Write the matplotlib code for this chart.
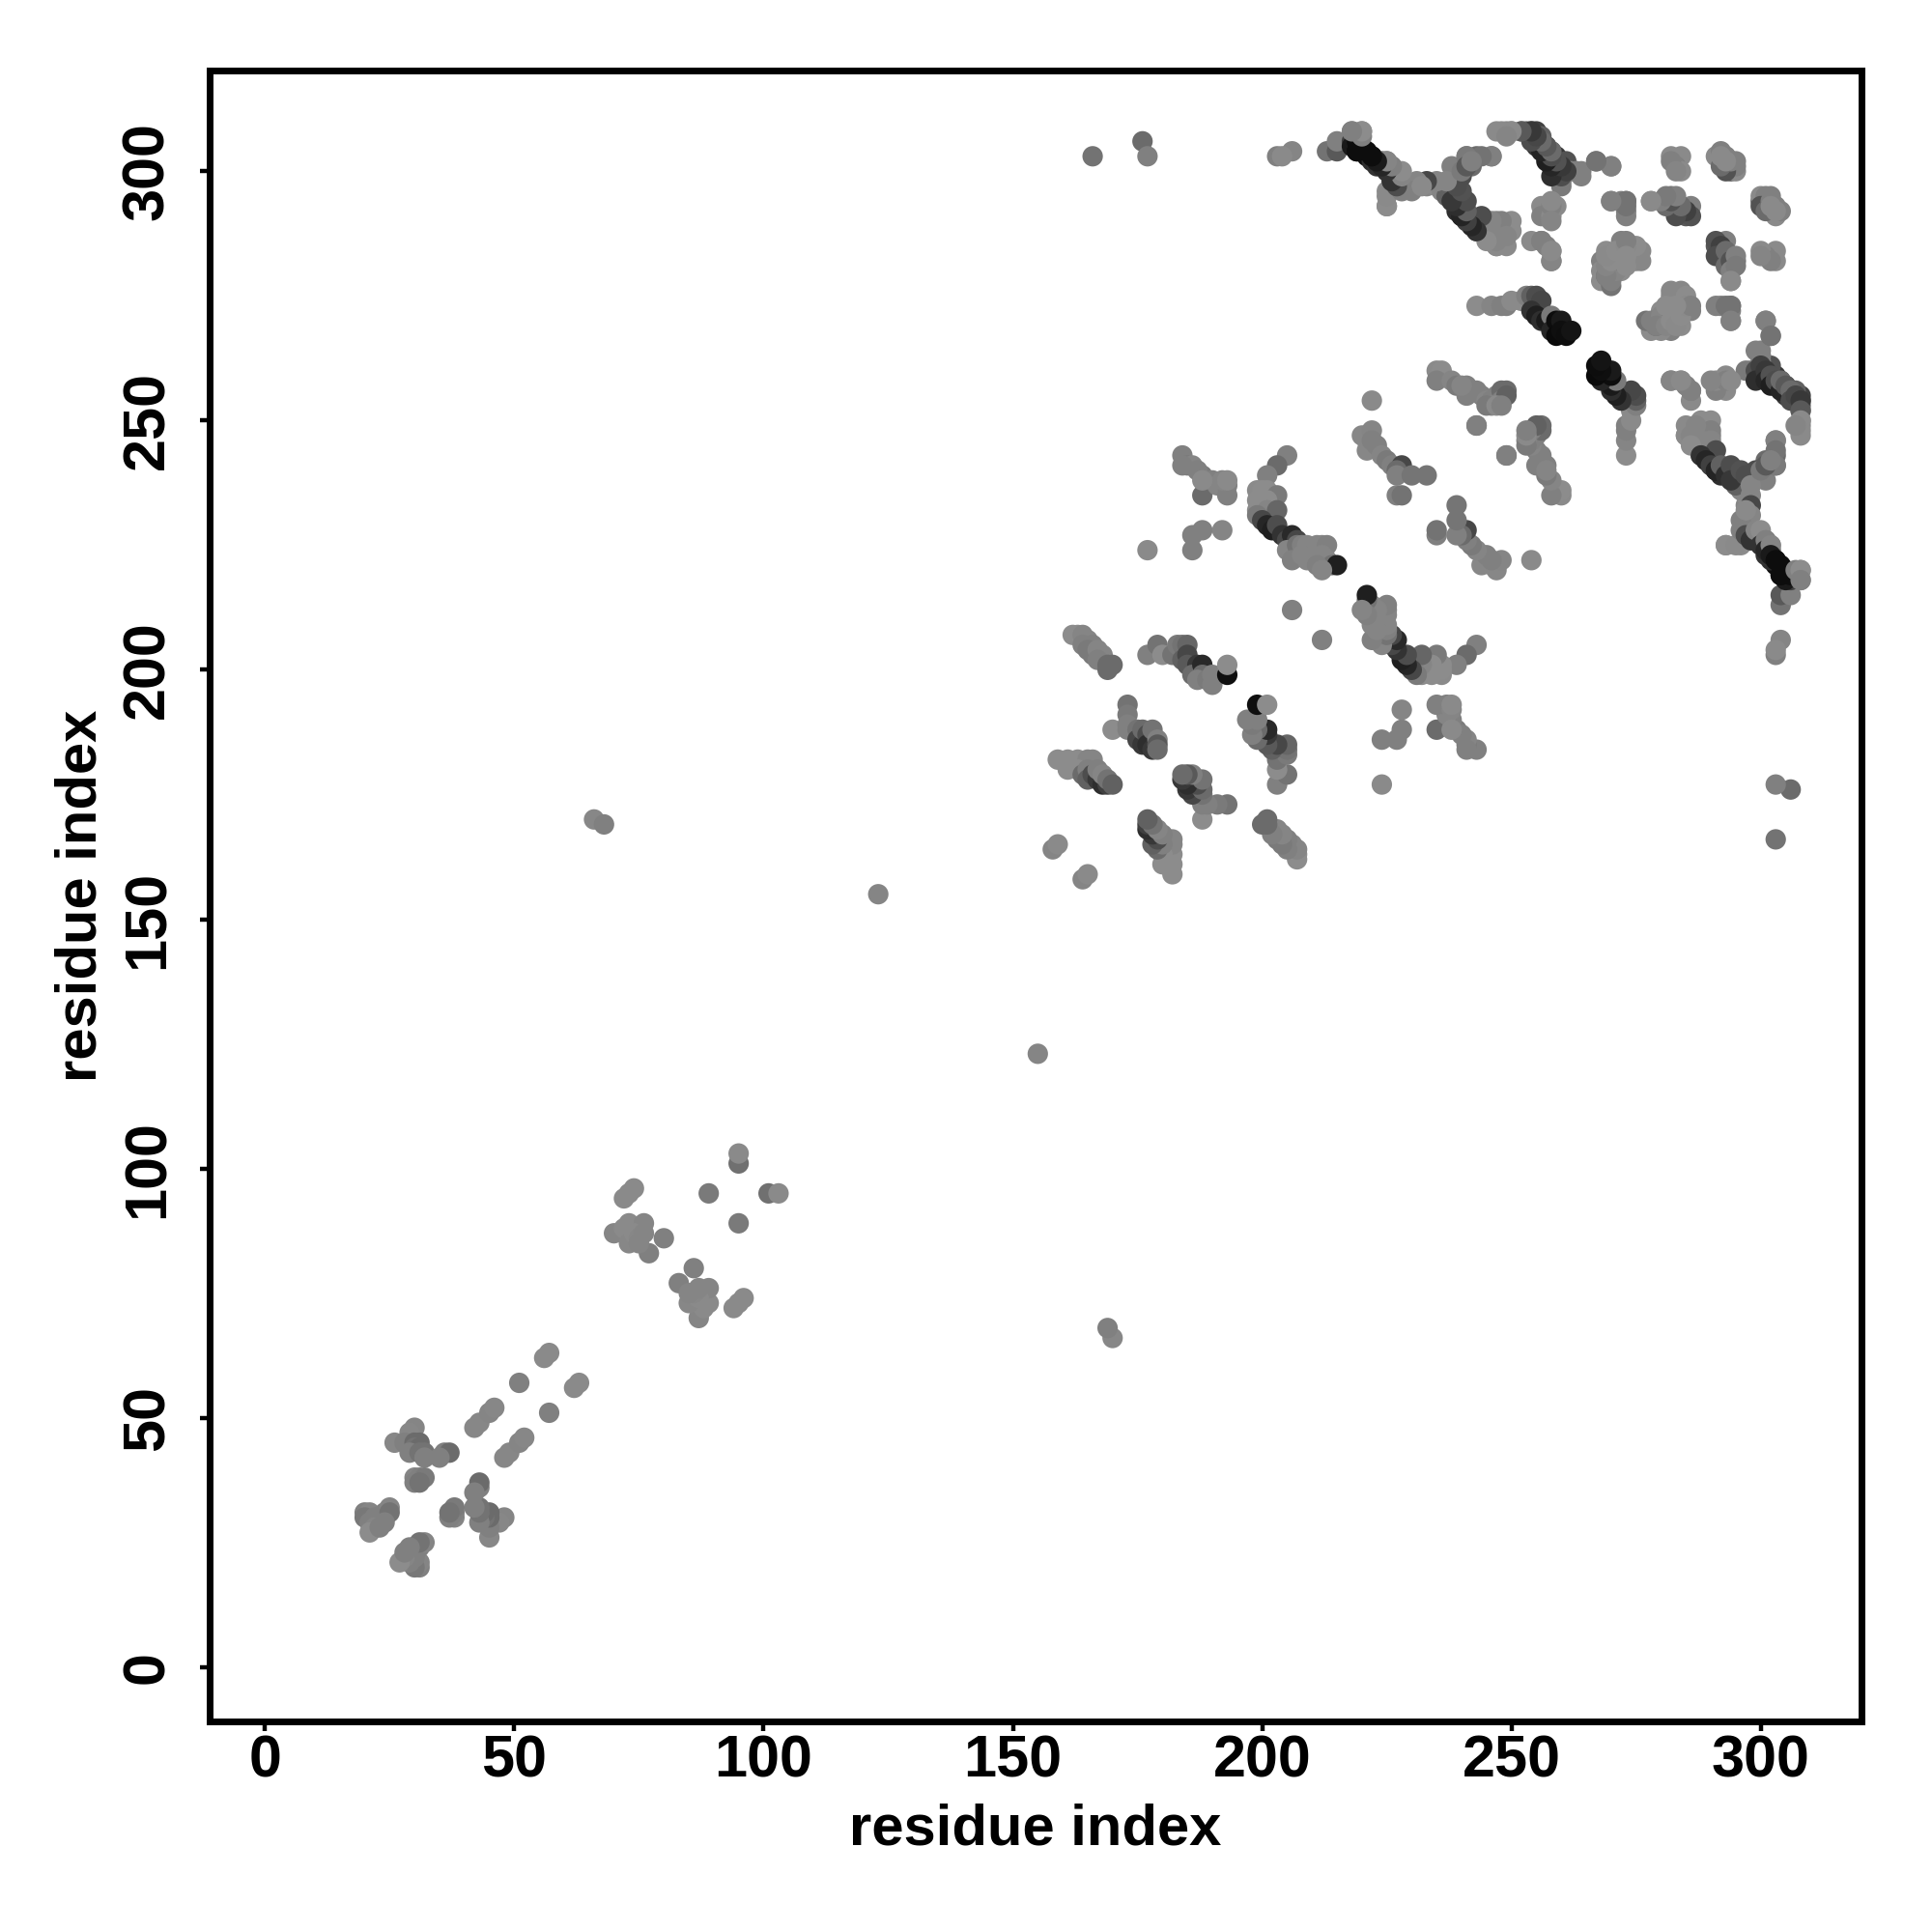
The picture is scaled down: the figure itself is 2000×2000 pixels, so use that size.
import matplotlib
matplotlib.use('Agg')
import matplotlib.pyplot as plt

# contacts as (residue i, residue j, grey level); the map is symmetric so only i < j is listed
contacts_low = [
    (20, 31, .50), (21, 31, .52), (20, 30, .47), (22, 30, .50), (21, 29, .50), (23, 30, .50), (22, 28, .52),
    (21, 27, .55), (24, 31, .50), (25, 32, .52), (25, 31, .45), (24, 29, .50), (23, 28, .50),
    (26, 45, .53), (29, 46, .50), (30, 48, .52), (29, 47, .53), (28, 45, .50), (30, 45, .42), (31, 45, .42),
    (30, 44, .45), (31, 44, .42), (29, 43, .50), (31, 43, .45), (32, 43, .45), (32, 42, .50), (36, 43, .50),
    (37, 43, .42), (35, 42, .50), (30, 38, .52), (31, 38, .50), (32, 38, .48), (30, 37, .50), (31, 37, .45),
    (42, 48, .53), (43, 49, .53), (45, 51, .52), (46, 52, .53), (51, 57, .50), (56, 62, .54), (57, 63, .54),
    (72, 94, .54), (73, 95, .54), (74, 96, .54),
    (70, 87, .52), (72, 88, .54), (73, 89, .54), (74, 88, .54), (76, 89, .52), (73, 85, .53), (74, 87, .54),
    (75, 86, .53), (76, 87, .52), (77, 83, .50), (75, 85, .52), (80, 86, .50),
    (89, 95, .48), (95, 101, .44), (95, 103, .54), (66, 170, .53), (68, 169, .50), (123, 155, .52),
]
contacts_far = [
    (166, 303, .45), (176, 306, .42), (177, 303, .50), (158, 164, .52), (159, 165, .54), (206, 212, .50),
    (222, 254, .54), (177, 224, .54), (203, 303, .50), (206, 304, .52), (204, 303, .54),
]
contacts_mid = [
    (159, 182, .55), (161, 182, .55), (163, 182, .55), (165, 182, .52), (166, 182, .52), (161, 180, .55),
    (163, 180, .55), (164, 179, .42), (165, 180, .50), (165, 178, .38), (166, 179, .30), (167, 178, .22),
    (167, 180, .50), (168, 177, .18), (169, 177, .25), (168, 179, .52), (169, 178, .45), (170, 177, .38),
    (170, 188, .55), (173, 193, .45), (173, 191, .48), (173, 189, .50), (173, 188, .50), (175, 188, .45),
    (175, 186, .28), (176, 185, .22), (176, 188, .42), (177, 187, .30), (177, 185, .18), (178, 184, .22),
    (178, 188, .45), (179, 186, .50), (179, 185, .35), (179, 184, .42),
    (162, 207, .55), (163, 207, .55), (164, 207, .52), (165, 206, .52), (164, 205, .50), (166, 205, .50),
    (165, 204, .48), (166, 203, .48), (167, 204, .52), (168, 203, .52), (167, 202, .50), (169, 201, .42),
    (170, 201, .42), (169, 200, .42),
    (177, 203, .50), (179, 205, .45), (180, 203, .55), (182, 203, .45), (183, 205, .48), (184, 205, .45),
    (185, 205, .40), (184, 202, .38), (185, 203, .28), (185, 201, .35), (186, 200, .35), (187, 201, .22),
    (186, 199, .42), (188, 201, .16), (188, 199, .42), (187, 198, .50), (189, 198, .48), (190, 199, .50),
    (190, 197, .50), (193, 199, .06), (193, 201, .55),
    (205, 243, .50), (203, 241, .42), (201, 239, .50), (199, 236, .54), (200, 236, .55), (201, 236, .55),
    (203, 235, .48), (199, 234, .55), (201, 234, .55), (199, 232, .55), (201, 232, .52), (203, 232, .40),
    (199, 231, .48), (200, 230, .28), (201, 229, .15), (202, 228, .12), (203, 229, .30), (204, 227, .20),
    (205, 226, .28), (206, 227, .16), (207, 226, .28), (205, 224, .52), (207, 225, .45), (208, 225, .50),
    (206, 222, .50), (209, 225, .52), (210, 223, .50), (211, 225, .52), (212, 225, .52), (213, 225, .50),
    (208, 223, .52), (209, 222, .52), (212, 223, .52), (213, 222, .52), (214, 221, .45), (215, 221, .12),
    (211, 221, .50), (212, 220, .52),
    (184, 243, .50), (185, 241, .48), (186, 241, .52), (188, 239, .48), (188, 235, .42), (190, 238, .50),
    (191, 237, .52), (193, 237, .50), (193, 235, .50), (192, 238, .52), (186, 227, .50), (188, 228, .50),
    (186, 224, .50), (192, 228, .52), (187, 240, .50), (184, 241, .50), (193, 238, .54), (188, 238, .54),
    (220, 247, .53), (221, 246, .53), (222, 248, .52), (221, 244, .53), (223, 245, .50),
    (222, 246, .50), (224, 243, .52), (225, 242, .48), (226, 241, .50), (228, 241, .28), (227, 240, .42),
    (227, 239, .50), (230, 239, .46), (233, 239, .46), (227, 235, .50), (228, 235, .45),
    (235, 260, .54), (236, 260, .55), (235, 258, .50), (238, 258, .52), (239, 257, .48), (241, 257, .50),
    (241, 255, .50), (243, 256, .50), (244, 255, .50), (245, 254, .52), (246, 254, .50), (247, 255, .50),
    (248, 256, .42), (249, 256, .42), (248, 254, .50), (249, 255, .38), (243, 249, .45), (243, 249, .50),
    (246, 253, .52), (245, 253, .48), (240, 257, .52), (247, 253, .54), (248, 253, .50),
]
contacts_top = [
    (213, 304, .45), (215, 304, .35), (215, 306, .50), (218, 308, .50), (220, 308, .52), (219, 307, .38),
    (218, 306, .25), (218, 305, .10), (219, 304, .06), (220, 304, .08), (221, 303, .06), (222, 303, .05),
    (222, 302, .18), (223, 301, .20), (224, 302, .35), (225, 302, .45), (225, 300, .42), (226, 301, .50),
    (227, 300, .48), (226, 298, .30), (228, 298, .45), (225, 296, .55), (225, 293, .55), (229, 297, .55),
    (231, 297, .55), (233, 297, .52), (235, 297, .55), (236, 296, .52), (237, 295, .38), (238, 298, .25),
    (239, 297, .30), (239, 295, .22), (240, 294, .30), (239, 292, .18), (240, 291, .12), (241, 290, .20),
    (242, 290, .32), (243, 288, .20), (244, 290, .45), (245, 289, .35), (246, 286, .50), (247, 290, .52),
    (248, 288, .52), (249, 287, .55), (250, 290, .55), (247, 285, .55), (248, 286, .52), (249, 285, .54),
    (238, 301, .50), (240, 300, .52), (241, 303, .45), (242, 301, .42), (243, 303, .42), (246, 303, .50),
    (247, 308, .54), (249, 308, .54), (250, 308, .50), (252, 308, .45), (253, 308, .40), (254, 308, .30),
    (255, 308, .25), (256, 307, .38), (255, 305, .22), (257, 305, .20), (258, 304, .28), (258, 302, .18),
    (259, 303, .22), (260, 301, .18), (261, 302, .32), (262, 300, .50), (263, 300, .50), (264, 300, .50),
    (260, 298, .50), (267, 302, .45), (270, 301, .50),
    (256, 293, .54), (259, 293, .54), (256, 291, .50), (258, 291, .54), (254, 286, .54), (256, 286, .50),
    (257, 285, .50), (258, 284, .52), (258, 282, .45),
    (243, 273, .55), (246, 273, .52), (248, 273, .50), (249, 273, .50), (250, 274, .54), (252, 274, .54),
    (253, 275, .50), (254, 275, .38), (255, 275, .30), (256, 274, .28), (254, 272, .20), (255, 271, .12),
    (256, 270, .18), (257, 270, .10), (258, 271, .48), (258, 268, .15), (259, 270, .05), (260, 270, .10),
    (259, 267, .04), (260, 268, .06), (261, 267, .05), (262, 268, .08),
    (268, 282, .50), (268, 280, .54), (268, 278, .55), (269, 284, .55), (269, 280, .55), (269, 279, .42),
    (270, 277, .45), (270, 279, .55), (271, 284, .53), (271, 282, .55), (271, 280, .55), (270, 281, .55),
    (272, 286, .50), (272, 283, .55), (272, 280, .55), (273, 285, .53), (274, 284, .53), (274, 282, .55),
    (275, 284, .53), (275, 282, .54),
    (270, 294, .50), (272, 294, .50), (273, 294, .45), (273, 292, .50), (278, 294, .52), (281, 294, .52),
    (282, 295, .45), (283, 294, .42), (283, 292, .38), (284, 293, .50), (285, 291, .35), (286, 293, .50),
    (285, 292, .53), (282, 303, .54), (284, 303, .54), (283, 301, .50),
    (291, 303, .54), (292, 304, .50), (293, 301, .28), (293, 303, .50), (294, 300, .35), (295, 302, .50),
    (295, 300, .54),
    (278, 270, .50), (280, 271, .52), (279, 269, .50), (281, 269, .52), (282, 272, .45), (282, 270, .55),
    (283, 269, .54), (284, 271, .55), (282, 276, .53), (284, 276, .53), (285, 275, .55), (285, 273, .54),
    (286, 273, .50), (283, 273, .55), (281, 273, .55),
    (291, 286, .32), (292, 285, .25), (291, 283, .30), (293, 284, .42), (293, 281, .42), (294, 282, .32),
    (295, 283, .50), (294, 280, .50), (295, 281, .48), (294, 278, .54), (300, 284, .54), (302, 282, .50),
    (300, 283, .52),
    (291, 273, .50), (293, 273, .45), (294, 273, .45), (294, 270, .50),
    (301, 295, .50), (300, 293, .32), (302, 294, .50), (301, 292, .42), (303, 292, .54), (302, 293, .54),
    (301, 270, .50), (302, 267, .45),
    (297, 260, .48), (299, 264, .50), (300, 263, .50), (299, 260, .30), (300, 261, .25), (299, 258, .18),
    (301, 260, .22), (301, 258, .15), (302, 259, .32), (302, 257, .12), (303, 258, .30), (304, 256, .14),
    (304, 258, .42), (305, 257, .35), (306, 256, .42), (306, 254, .30), (307, 255, .28), (308, 254, .22),
    (308, 252, .35), (308, 250, .54), (308, 248, .54), (307, 249, .52),
    (293, 258, .50), (294, 258, .54), (290, 258, .52), (286, 256, .50), (282, 258, .52), (284, 258, .54),
    (288, 250, .55), (285, 247, .54), (286, 247, .52), (290, 248, .50), (288, 246, .52), (287, 249, .52),
    (286, 245, .55), (290, 246, .52), (291, 244, .30), (288, 243, .20), (289, 242, .15), (290, 241, .25),
    (291, 240, .14), (292, 241, .38), (293, 239, .18), (294, 241, .30), (294, 238, .22), (296, 240, .32),
    (297, 239, .30), (299, 240, .30), (298, 237, .52), (298, 235, .52), (298, 233, .28), (298, 231, .52),
    (296, 230, .50), (297, 232, .54), (293, 225, .55), (295, 225, .54),
    (303, 246, .50), (303, 244, .45), (303, 241, .48), (300, 240, .48), (301, 241, .35), (302, 242, .50),
    (296, 228, .50), (297, 227, .30), (298, 226, .20), (299, 228, .52), (300, 228, .55), (300, 225, .20),
    (301, 226, .50), (301, 224, .15), (302, 225, .52), (302, 223, .10), (303, 222, .05), (304, 221, .05),
    (304, 219, .05), (305, 220, .05), (306, 219, .05), (307, 220, .50), (308, 220, .55), (308, 218, .50),
]

x_ticks = [0, 50, 100, 150, 200, 250, 300]
axis_label = 'residue index'

plt.rcParams['font.family'] = ['Liberation Sans', 'DejaVu Sans']
plt.rcParams['font.weight'] = 'bold'

fig = plt.figure(figsize=(10, 10), dpi=200)
ax = fig.add_axes([217 / 2000, 1 - 1782 / 2000, (1927 - 217) / 2000, (1782 - 73) / 2000])

all_contacts = contacts_low + contacts_far + contacts_mid + contacts_top
xs, ys, cs = [], [], []
for i, j, g in all_contacts:
    xs += [i, j]
    ys += [j, i]
    cs += [(g, g, g), (g, g, g)]
ax.scatter(xs, ys, s=58, c=cs, linewidths=0, zorder=2)

ax.set_xlim(-11.1, 320.2)
ax.set_ylim(-10.9, 320.2)
ax.set_xticks(x_ticks)
ax.set_yticks(x_ticks)
ax.tick_params(axis='both', length=3.5, width=1.6, labelsize=22)
ax.tick_params(axis='x', pad=1.5)
ax.tick_params(axis='y', pad=9)
plt.setp(ax.get_yticklabels(), rotation=90, va='center')
ax.set_xlabel(axis_label, fontsize=21.5, fontweight='bold', labelpad=5)
ax.set_ylabel(axis_label, fontsize=21.5, fontweight='bold', labelpad=5)
for spine in ax.spines.values():
    spine.set_linewidth(2.5)

fig.savefig('out.png', dpi=200)
